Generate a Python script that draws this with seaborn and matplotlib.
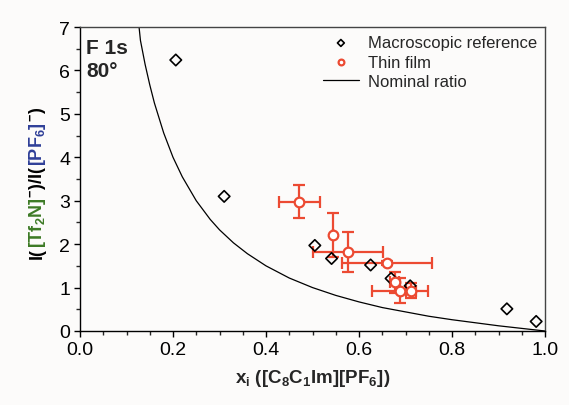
import matplotlib
matplotlib.use("Agg")
import numpy as np
import pandas as pd
import seaborn as sns
import matplotlib.pyplot as plt
from matplotlib.ticker import MultipleLocator

# ---- data ----
macro_x = [0.206, 0.310, 0.505, 0.541, 0.625, 0.669, 0.710, 0.918, 0.981]
macro_y = [6.24, 3.10, 1.97, 1.67, 1.52, 1.21, 1.04, 0.51, 0.22]

film_x = [0.472, 0.545, 0.576, 0.661, 0.677, 0.688, 0.712]
film_y = [2.98, 2.21, 1.83, 1.56, 1.12, 0.93, 0.93]
film_xerr = [0.044, 0.0, 0.076, 0.097, 0.010, 0.060, 0.010]
film_yerr = [0.38, 0.50, 0.46, 0.05, 0.25, 0.28, 0.18]

nominal_x = [0.127, 0.13, 0.14, 0.15, 0.16, 0.18, 0.20, 0.22, 0.25, 0.28, 0.30,
             0.33, 0.36, 0.40, 0.45, 0.50, 0.55, 0.60, 0.65, 0.70, 0.75, 0.80,
             0.85, 0.90, 0.95, 1.00]
nominal_y = [7.00, 6.69, 6.14, 5.67, 5.25, 4.56, 4.00, 3.55, 3.00, 2.57, 2.33,
             2.03, 1.78, 1.50, 1.22, 1.00, 0.82, 0.67, 0.54, 0.44, 0.34, 0.26,
             0.19, 0.12, 0.06, 0.00]

x_ticks = [0.0, 0.2, 0.4, 0.6, 0.8, 1.0]
y_ticks = [0, 1, 2, 3, 4, 5, 6, 7]

RED = "#ec4a32"
GREEN = "#3d7a25"
BLUE = "#2f3f98"
BG = "#fcfbfa"

sns.set_theme(style="ticks")
plt.rcParams["font.family"] = ["Liberation Sans", "DejaVu Sans"]
plt.rcParams["mathtext.fontset"] = "custom"
plt.rcParams["mathtext.rm"] = "Liberation Sans"
plt.rcParams["mathtext.bf"] = "Liberation Sans:bold"
plt.rcParams["mathtext.it"] = "Liberation Sans:italic"

fig = plt.figure(figsize=(5.69, 4.06), dpi=100, facecolor=BG)
ax = fig.add_axes([80 / 569, 1 - 332 / 406, 465 / 569, 304 / 406], facecolor=BG)

macro_df = pd.DataFrame({"x": macro_x, "y": macro_y})
film_df = pd.DataFrame({"x": film_x, "y": film_y})
nom_df = pd.DataFrame({"x": nominal_x, "y": nominal_y})

ax.errorbar(film_x, film_y, xerr=film_xerr, yerr=film_yerr, fmt="none",
            ecolor=RED, elinewidth=1.6, capsize=4, capthick=1.6, zorder=3)

sns.scatterplot(data=macro_df, x="x", y="y", ax=ax, marker="D", s=34,
                facecolor="none", edgecolor="black", linewidth=1.2,
                label="Macroscopic reference", zorder=4)
sns.scatterplot(data=film_df, x="x", y="y", ax=ax, marker="o", s=48,
                facecolor="white", edgecolor=RED, linewidth=1.6,
                label="Thin film", zorder=5)
sns.lineplot(data=nom_df, x="x", y="y", ax=ax, color="black", linewidth=0.9,
             label="Nominal ratio", zorder=2, sort=False)

ax.set_xlim(0, 1.0)
ax.set_ylim(0, 7)
ax.set_xticks(x_ticks)
ax.set_xticklabels([f"{v:.1f}" for v in x_ticks])
ax.set_yticks(y_ticks)
ax.set_yticklabels([str(v) for v in y_ticks])
ax.xaxis.set_minor_locator(MultipleLocator(0.05))
ax.yaxis.set_minor_locator(MultipleLocator(0.5))
ax.tick_params(which="major", direction="out", length=4, width=1, labelsize=14,
               colors="black", pad=3)
ax.tick_params(which="minor", direction="out", length=3, width=1)
ax.tick_params(top=False, right=False, which="both")
for side in ["left", "bottom"]:
    ax.spines[side].set_color("black")
    ax.spines[side].set_linewidth(1.0)
for side in ["top", "right"]:
    ax.spines[side].set_color("#444444")
    ax.spines[side].set_linewidth(1.0)

ax.set_xlabel(r"$\mathbf{x}_{\mathbf{i}}$ ([C$_{\mathbf{8}}$C$_{\mathbf{1}}$Im][PF$_{\mathbf{6}}$])",
              fontsize=13.5, fontweight="bold", labelpad=7)
ax.set_ylabel("")

ax.text(0.013, 0.965, "F 1s\n80°", transform=ax.transAxes, ha="left", va="top",
        fontsize=15, fontweight="bold", linespacing=1.3)

leg = ax.legend(loc="upper right", frameon=False, fontsize=12, handlelength=2.2,
                handletextpad=0.5, labelspacing=0.25, borderaxespad=0.3,
                borderpad=0.2, markerscale=0.6)

# multi-coloured rotated y label
pieces = [("I(", "black"),
          (r"[Tf$_{\mathbf{2}}$N]", GREEN),
          (r"$^{\mathbf{-}}$)/I(", "black"),
          (r"[PF$_{\mathbf{6}}$]", BLUE),
          (r"$^{\mathbf{-}}$)", "black")]
fig.canvas.draw()
renderer = fig.canvas.get_renderer()
widths = []
for txt, col in pieces:
    t = fig.text(0, 0, txt, fontsize=13, fontweight="bold")
    widths.append(t.get_window_extent(renderer).width)
    t.remove()
total = sum(widths)
H = fig.bbox.height
W = fig.bbox.width
x_base = 42  # pixels from left (baseline)
y_center = H - 183
cur = y_center - total / 2
for (txt, col), w in zip(pieces, widths):
    fig.text(x_base / W, cur / H, txt, fontsize=13, fontweight="bold", color=col,
             rotation=90, rotation_mode="anchor", ha="left", va="baseline")
    cur += w

fig.savefig("out.png", dpi=100, facecolor=BG)
